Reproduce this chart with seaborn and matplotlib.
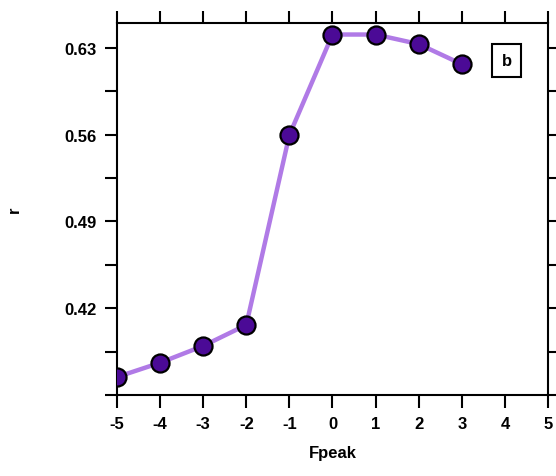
import matplotlib
matplotlib.use("Agg")
import matplotlib.pyplot as plt
import seaborn as sns
import pandas as pd
from matplotlib.ticker import MultipleLocator

# данные
fpeak = [-5, -4, -3, -2, -1, 0, 1, 2, 3]
r_vals = [0.3645, 0.376, 0.3896, 0.4065, 0.5597, 0.6407, 0.6407, 0.633, 0.6168]
y_ticks = [0.42, 0.49, 0.56, 0.63]
x_ticks = [-5, -4, -3, -2, -1, 0, 1, 2, 3, 4, 5]
panel_label = "b"

sns.set_style("ticks")
plt.rcParams['font.family'] = ['Liberation Sans', 'DejaVu Sans']
plt.rcParams['font.weight'] = 'bold'
plt.rcParams['text.color'] = 'black'
plt.rcParams['axes.labelcolor'] = 'black'

df = pd.DataFrame({"Fpeak": fpeak, "r": r_vals})

fig = plt.figure(figsize=(5.56, 4.77), dpi=100)
ax = fig.add_axes([0.2104, 0.1698, 0.7752, 0.7799])

sns.lineplot(data=df, x="Fpeak", y="r", ax=ax, color="#b07ae6", linewidth=3.2,
             marker="o", markersize=13, markerfacecolor="#4b0a96",
             markeredgecolor="black", markeredgewidth=1.6, zorder=3)

ax.set_xlim(-5, 5)
ax.set_ylim(0.35, 0.65)
ax.set_xticks(x_ticks)
ax.set_xticklabels([str(t) for t in x_ticks])
ax.set_yticks(y_ticks)
ax.set_yticklabels([f"{t:.2f}" for t in y_ticks])
ax.yaxis.set_minor_locator(MultipleLocator(0.035))

for s in ax.spines.values():
    s.set_visible(True)
    s.set_linewidth(1.5)
    s.set_color("black")

ax.tick_params(which="both", direction="out", length=9, width=1.5, colors="black",
               top=True, right=True, labelsize=12, pad=6)
ax.tick_params(which="minor", length=9)
for lab in ax.get_xticklabels() + ax.get_yticklabels():
    lab.set_fontweight("bold")

ax.set_xlabel("Fpeak", fontsize=12, fontweight="bold", labelpad=10, color="black")
ax.set_ylabel("r", fontsize=12, fontweight="bold", labelpad=30, color="black")

ax.text(4.04, 0.6195, panel_label, fontsize=12, fontweight="bold", color="black",
        ha="center", va="center",
        bbox=dict(boxstyle="square,pad=0.55", facecolor="white", edgecolor="black", linewidth=1.5))

fig.savefig("out.png", dpi=100)
